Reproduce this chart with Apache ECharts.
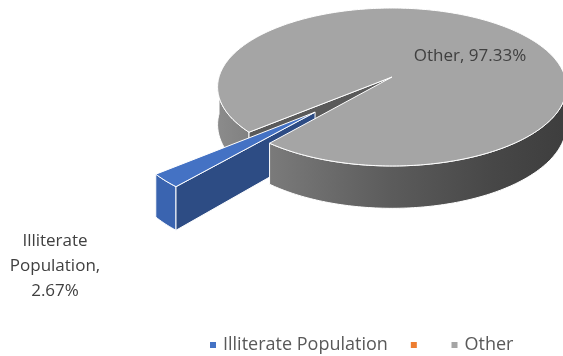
<!DOCTYPE html>
<html>
<head>
<meta charset="utf-8">
<script src="https://cdn.jsdelivr.net/npm/echarts@6/dist/echarts.min.js"></script>
<style>
  html, body { margin: 0; padding: 0; background: #fff; }
  #chart { width: 563px; height: 356px; }
</style>
</head>
<body>
<div id="chart"></div>
<script>
const categories = ['Illiterate Population', ' ', 'Other']
const shares = [2.67, 0, 97.33]
const colors = ['#4472c4', '#ed7d31', '#a5a5a5']
const exploded = [0.6, 0, 0]

// tilted pie projection, fitted by hand to the picture
const CX = 392, CY = 77, RX = 173, RY = 77.7, DIST = 7.9, DEPTH = 37
const START = 129.7
const FONT = '"Open Sans", sans-serif'
const labelSpots = [[55, 266], null, [470, 56]]

const rad = d => d * Math.PI / 180
function proj(u, v, z) {
  const s = DIST / (DIST - v)
  return [CX + RX * u * s, CY + (RY * v + DEPTH * z) * s]
}

const total = shares.reduce((a, b) => a + b, 0)
const starts = []
let acc = START
shares.forEach((v) => {
  starts.push(acc)
  acc += v / total * 360
})

const sideGrad = new echarts.graphic.LinearGradient(215, 0, 563, 0, [
  { offset: 0, color: '#8c8c8c' },
  { offset: 0.16, color: '#7a7a7a' },
  { offset: 0.5, color: '#5c5c5c' },
  { offset: 0.8, color: '#474747' },
  { offset: 1, color: '#3e3e3e' },
], true)
const shade = {
  '#4472c4': { wall: '#3a64b0', cut: '#2d4c84' },
  '#a5a5a5': { wall: sideGrad, cut: '#5a5a5a' },
}
const edge = { stroke: '#fff', lineWidth: 1, lineJoin: 'round' }

function renderSlice(i) {
  return function (params, api) {
    const val = api.value(0)
    if (!val)
      return { type: 'group', children: [] }
    const a0 = starts[i]
    const a1 = a0 + val / total * 360
    const mid = rad((a0 + a1) / 2)
    const ox = exploded[i] * Math.cos(mid)
    const oy = exploded[i] * Math.sin(mid)
    const pt = (r, deg, z) => proj(ox + r * Math.cos(rad(deg)), oy + r * Math.sin(rad(deg)), z)
    const arc = (b0, b1, z) => {
      const pts = []
      const n = Math.max(2, Math.ceil(Math.abs(b1 - b0)))
      for (let k = 0; k <= n; k++)
        pts.push(pt(1, b0 + (b1 - b0) * k / n, z))
      return pts
    }
    const out = exploded[i] > 0
    const sh = shade[colors[i]]
    const children = []

    // outer wall, only where it faces us
    for (let k = Math.floor(a0 / 360) * 360; k < a1; k += 360) {
      const b0 = Math.max(a0, k)
      const b1 = Math.min(a1, k + 180)
      if (b1 > b0) {
        children.push({
          type: 'polygon',
          shape: { points: arc(b0, b1, 0).concat(arc(b1, b0, 1)) },
          style: { fill: sh.wall, ...edge },
          z2: out ? 3 : (b0 - k >= 90 ? 1 : 4),
        })
      }
    }
    // cut faces
    const face = deg => ({
      type: 'polygon',
      shape: { points: [pt(0, 0, 0), pt(1, deg, 0), pt(1, deg, 1), pt(0, 0, 1)] },
      style: { fill: sh.cut, ...edge },
      z2: out ? 3 : 2,
    })
    if (Math.sin(rad(a0 - 90)) > 0)
      children.push(face(a0))
    if (Math.sin(rad(a1 + 90)) > 0)
      children.push(face(a1))
    // top
    children.push({
      type: 'polygon',
      shape: { points: [pt(0, 0, 0)].concat(arc(a0, a1, 0)) },
      style: { fill: colors[i], ...edge },
      z2: out ? 6 : 5,
    })
    // data label
    const spot = labelSpots[i]
    if (spot) {
      const text = out
        ? categories[i].split(' ').join('\n') + ',\n' + val.toFixed(2) + '%'
        : categories[i] + ', ' + val.toFixed(2) + '%'
      children.push({
        type: 'text',
        x: spot[0],
        y: spot[1],
        z2: 10,
        style: {
          text,
          fill: '#404040',
          fontFamily: FONT,
          fontSize: 17,
          lineHeight: 25,
          align: 'center',
          verticalAlign: 'middle',
        },
      })
    }
    return { type: 'group', children }
  }
}

const chart = echarts.init(document.getElementById('chart'))
chart.setOption({
  animation: false,
  legend: {
    data: categories,
    left: 205,
    top: 331,
    icon: 'rect',
    itemWidth: 6,
    itemHeight: 6,
    itemGap: 23,
    selectedMode: false,
    textStyle: { fontFamily: FONT, fontSize: 18, color: '#595959', padding: [0, 0, 0, 2] },
  },
  series: categories.map((name, i) => ({
    type: 'custom',
    name,
    coordinateSystem: 'none',
    silent: true,
    itemStyle: { color: colors[i] },
    data: [[shares[i]]],
    renderItem: renderSlice(i),
  })),
})
</script>
</body>
</html>
